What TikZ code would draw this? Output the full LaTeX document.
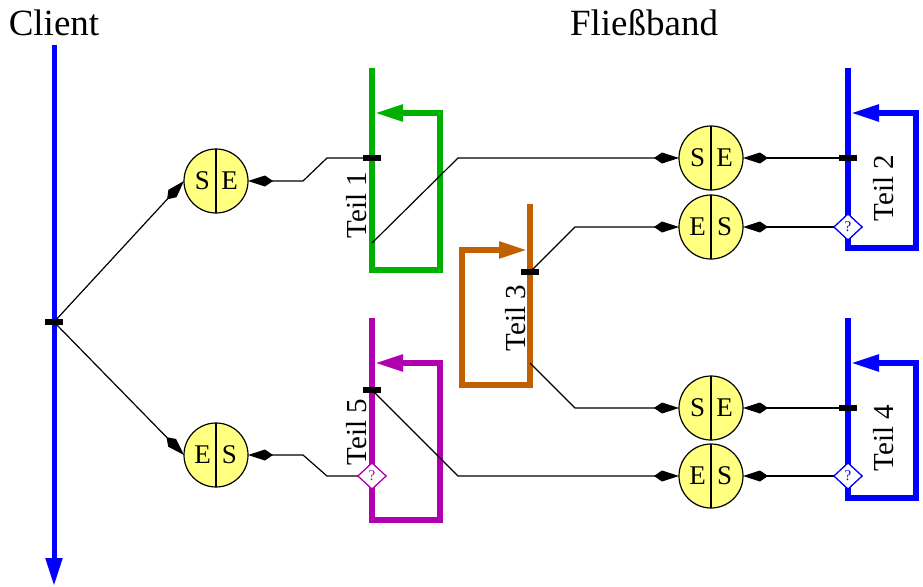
\documentclass[tikz,border=0pt]{standalone}
\usepackage{fontspec}
\setmainfont{Liberation Serif}
\usetikzlibrary{arrows.meta,shapes.geometric}
\definecolor{sepyellow}{RGB}{255,255,128}
\definecolor{bandgreen}{RGB}{0,176,0}
\definecolor{bandorange}{RGB}{192,96,0}
\definecolor{bandmagenta}{RGB}{176,0,176}
\newcommand\sepcircle[4]{%
  \node[sepc] (#1) at (#2) {};
  \draw[line width=1.2pt] (#1.north) -- (#1.south);
  \node[letter] (#1l) at ([xshift=-13.5pt]#1.center) {#3};
  \node[letter] (#1r) at ([xshift=13.5pt]#1.center) {#4};}
\begin{document}
\begin{tikzpicture}[x=1pt,y=-1pt,
  every node/.style={inner sep=0pt, outer sep=0pt},
  title/.style={font=\fontsize{37}{40}\selectfont, anchor=base},
  teil/.style={font=\fontsize{29}{32}\selectfont, rotate=90},
  band/.style={line width=5.5pt, line join=miter, -{Triangle[length=28pt,width=16pt]}},
  conn/.style={line width=1.2pt, -{Kite[length=25pt,width=11pt,inset=8pt]}},
  tick/.style={rectangle, fill=black, minimum width=18pt, minimum height=6pt},
  query/.style={diamond, draw=#1, fill=white, line width=1.2pt, minimum width=28pt, minimum height=26pt, text=#1, font=\fontsize{15}{15}\selectfont},
  sepc/.style={circle, draw=black, line width=1.2pt, fill=sepyellow, minimum size=64pt},
  letter/.style={font=\fontsize{27}{27}\selectfont}
]
\useasboundingbox (0,0) rectangle (923,586);

% titles
\node[title] (client) at (54,36) {Client};
\node[title] (band) at (644,36) {Fließband};

% client time line
\draw[blue, line width=5pt, -{Triangle[length=28pt,width=16pt]}] (54,45) -- (54,586);

% loops
\draw[band, bandgreen] (372,68) -- (372,270) -- (440,270) -- (440,113) -- (375,113);
\draw[band, blue] (848,68) -- (848,248) -- (916,248) -- (916,113) -- (851,113);
\draw[band, bandorange] (530,204) -- (530,385) -- (462,385) -- (462,250) -- (527,250);
\draw[band, blue] (848,318) -- (848,498) -- (916,498) -- (916,363) -- (851,363);
\draw[band, bandmagenta] (372,318) -- (372,520) -- (440,520) -- (440,363) -- (375,363);

% circles
\sepcircle{se1}{216,181}{S}{E}
\sepcircle{es1}{216,455}{E}{S}
\sepcircle{se2}{711,158}{S}{E}
\sepcircle{es2}{711,227}{E}{S}
\sepcircle{se3}{711,408}{S}{E}
\sepcircle{es3}{711,476}{E}{S}

% ticks and queries (positions)
\node[tick] (ct) at (54,322) {};
\node[tick] (t1) at (372,158) {};
\node[tick] (t2) at (848,158) {};
\node[tick] (t3) at (530,272) {};
\node[tick] (t4) at (848,408) {};
\node[tick] (t5) at (372,390) {};
\coordinate (g1) at (372,243);
\coordinate (o3) at (530,363);
\node[query=blue] (q2) at (848,227) {?};
\node[query=blue] (q4) at (848,476) {?};
\node[query=bandmagenta] (q5) at (372,476) {?};

% connectors
\draw[conn] (ct.center) -- (se1.west);
\draw[conn] (ct.center) -- (es1.west);
\draw[conn] (t1.west) -- ++(-36,0) -- ++(-24,23) -- (se1.east);
\draw[conn] (g1) -- ++(86,-85) -- (se2.west);
\draw[conn] (t2.west) -- (se2.east);
\draw[conn] (q2.west) -- (es2.east);
\draw[conn] (t3.center) -- ++(45,-45) -- (es2.west);
\draw[conn] (o3) -- ++(45,45) -- (se3.west);
\draw[conn] (t4.west) -- (se3.east);
\draw[conn] (q4.west) -- (es3.east);
\draw[conn] (t5.center) -- ++(86,86) -- (es3.west);
\draw[conn] (q5.west) -- ++(-31,0) -- ++(-24,-21) -- (es1.east);

% redraw ticks and queries on top of connectors
\node[tick] (ctb) at (ct) {};
\node[tick] (t3b) at (t3) {};
\node[tick] (t5b) at (t5) {};
\node[query=blue] (q2b) at (q2) {?};
\node[query=blue] (q4b) at (q4) {?};
\node[query=bandmagenta] (q5b) at (q5) {?};

% labels
\node[teil] (teil1) at (357,205) {Teil 1};
\node[teil] (teil2) at (884,188) {Teil 2};
\node[teil] (teil3) at (516,318) {Teil 3};
\node[teil] (teil4) at (884,438) {Teil 4};
\node[teil] (teil5) at (357,432) {Teil 5};
\end{tikzpicture}
\end{document}
